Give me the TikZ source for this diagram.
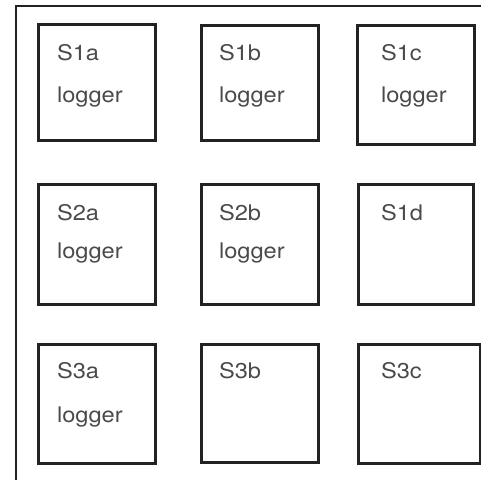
\documentclass[tikz,border=0pt]{standalone}
\usepackage{fontspec}
\setmainfont{TeX Gyre Heros}[FakeStretch=1.1]
\definecolor{linec}{HTML}{222222}
\definecolor{textc}{HTML}{4A4A4A}
\begin{document}
\begin{tikzpicture}[x=1pt,y=-1pt,
  box/.style={draw=linec, line width=3.2pt, rectangle, inner sep=0pt, outer sep=0pt, minimum width=117pt, minimum height=117pt},
  lbl/.style={anchor=base west, inner sep=0pt, outer sep=0pt, text=textc, font=\fontsize{21.5pt}{26pt}\selectfont}]
\useasboundingbox (0,0) rectangle (481,479);
\clip (0,0) rectangle (481,479);
% outer frame
\coordinate (ftr) at (483,6);
\coordinate (ftl) at (16,6);
\coordinate (fbl) at (16,481);
\draw[linec, line width=2.4pt] (ftr) -- (ftl) -- (fbl);
% row 1
\node[box, minimum height=116pt] (s1a) at (97,82.5) {};
\node[box, minimum height=115pt] (s1b) at (260,83) {};
\node[box, minimum height=119pt] (s1c) at (416,85) {};
% row 2
\node[box, minimum height=120pt] (s2a) at (97,244.5) {};
\node[box, minimum height=120pt] (s2b) at (260,244.5) {};
\node[box, minimum width=115pt, minimum height=120pt] (s1d) at (416,244.5) {};
% row 3
\node[box, minimum height=119pt] (s3a) at (97,404) {};
\node[box, minimum height=118pt] (s3b) at (260,403.5) {};
\node[box, minimum width=122pt, minimum height=119pt] (s3c) at (419.5,404) {};
% labels
\node[lbl] (t1a) at (57,60) {S1a};
\node[lbl] (l1a) at (57,102) {logger};
\node[lbl] (t1b) at (219,60) {S1b};
\node[lbl] (l1b) at (219,102) {logger};
\node[lbl] (t1c) at (381,60) {S1c};
\node[lbl] (l1c) at (381,102) {logger};
\node[lbl] (t2a) at (57,220) {S2a};
\node[lbl] (l2a) at (57,258) {logger};
\node[lbl] (t2b) at (219,220) {S2b};
\node[lbl] (l2b) at (219,258) {logger};
\node[lbl] (t1d) at (381,220) {S1d};
\node[lbl] (t3a) at (57,378) {S3a};
\node[lbl] (l3a) at (57,422) {logger};
\node[lbl] (t3b) at (219,378) {S3b};
\node[lbl] (t3c) at (381,378) {S3c};
\end{tikzpicture}
\end{document}
